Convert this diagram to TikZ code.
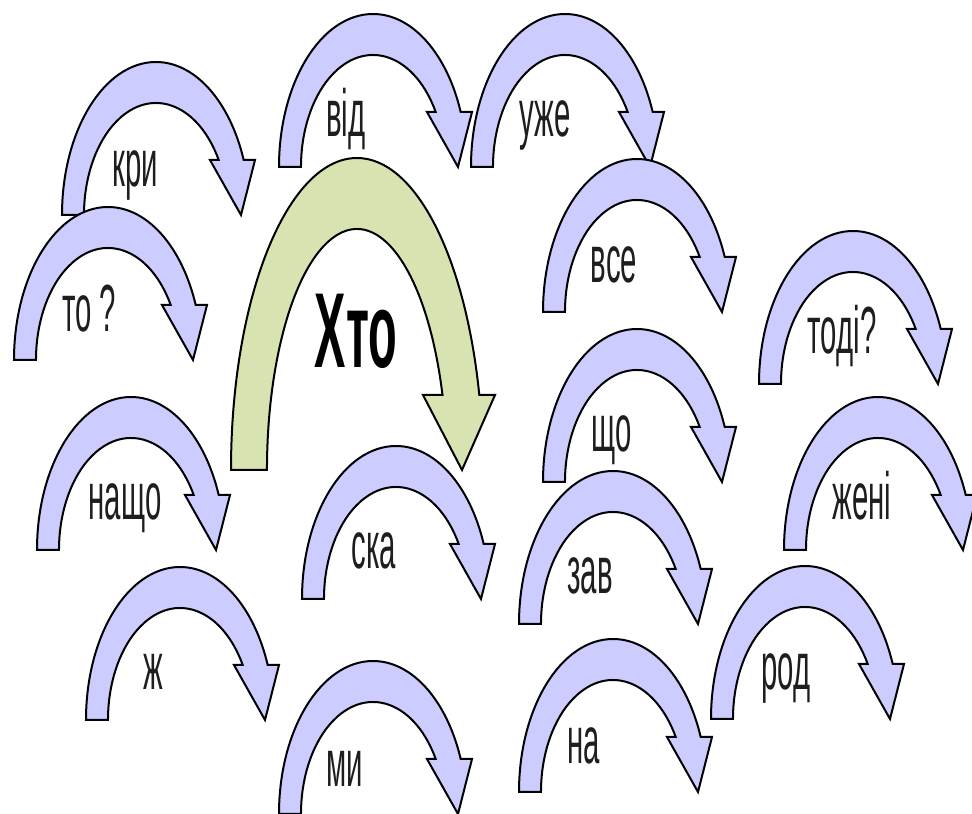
\documentclass[tikz,border=0pt]{standalone}
\usepackage{fontspec}
\setmainfont{Liberation Sans}
\newfontfamily\labfont[FakeStretch=0.44]{Liberation Sans}
\definecolor{arrowblue}{RGB}{204,204,255}
\definecolor{arrowgreen}{RGB}{215,228,178}
\definecolor{labgray}{RGB}{30,30,30}
\tikzset{
  arrowline/.style={draw=black, line width=1.5pt, line join=miter},
  bluearr/.pic={
    \path[arrowline, fill=arrowblue]
      (0,0) arc[start angle=180, end angle=21.07, x radius=94, y radius=153]
      -- (193,55) -- (179,0) -- (148,55) -- (156.7,55)
      arc[start angle=29.41, end angle=180, x radius=72, y radius=112]
      -- cycle;
  },
  greenarr/.pic={
    \path[arrowline, fill=arrowgreen]
      (0,0) arc[start angle=180, end angle=13.91, x radius=126, y radius=312]
      -- (264,75) -- (231,0) -- (192,75) -- (211.5,75)
      arc[start angle=18.13, end angle=180, x radius=90, y radius=241]
      -- cycle;
  },
  word/.style={anchor=base, inner sep=0pt, text=labgray,
    font=\labfont\fontsize{50}{60}\selectfont},
  bigword/.style={anchor=base, inner sep=0pt, text=black,
    font=\labfont\bfseries\fontsize{80}{96}\selectfont}
}
\begin{document}
\begin{tikzpicture}[x=0.75pt, y=0.75pt]
\useasboundingbox (0,0) rectangle (972,814);
\clip (0,0) rectangle (972,814);
% arrows (y = 814 - pixel row)
\pic (akri) at (62,599) {bluearr};
\pic (ato) at (14,454) {bluearr};
\pic (avid) at (279,647) {bluearr};
\pic (auzhe) at (471,647) {bluearr};
\pic (avse) at (543,502) {bluearr};
\pic (agreen) at (231,344) {greenarr};
\pic (atodi) at (759,430) {bluearr};
\pic (anashcho) at (37,264) {bluearr};
\pic (ashcho) at (543,332) {bluearr};
\pic (azheni) at (784,264) {bluearr};
\pic (aska) at (302,215) {bluearr};
\pic (azav) at (519,190) {bluearr};
\pic (azh) at (86,94) {bluearr};
\pic (arod) at (711,95) {bluearr};
\pic (ami) at (279,0) {bluearr};
\pic (ana) at (519,22) {bluearr};
% labels
\node[word] (tkri) at (135,627) {кри};
\node[word] (tto) at (89,482) {то ?};
\node[word] (tvid) at (346,677) {від};
\node[word] (tuzhe) at (545,677) {уже};
\node[word] (tvse) at (614,531) {все};
\node[bigword] (tkhto) at (356,446) {Хто};
\node[word] (ttodi) at (842,460) {тоді?};
\node[word] (tnashcho) at (125,294) {нащо};
\node[word] (tshcho) at (612,362) {що};
\node[word] (tzheni) at (862,294) {жені};
\node[word] (tska) at (374,245) {ска};
\node[word] (tzav) at (590,220) {зав};
\node[word] (tzh) at (153,124) {ж};
\node[word] (trod) at (786,124) {род};
\node[word] (tmi) at (345,27) {ми};
\node[word] (tna) at (584,50) {на};
\end{tikzpicture}
\end{document}
